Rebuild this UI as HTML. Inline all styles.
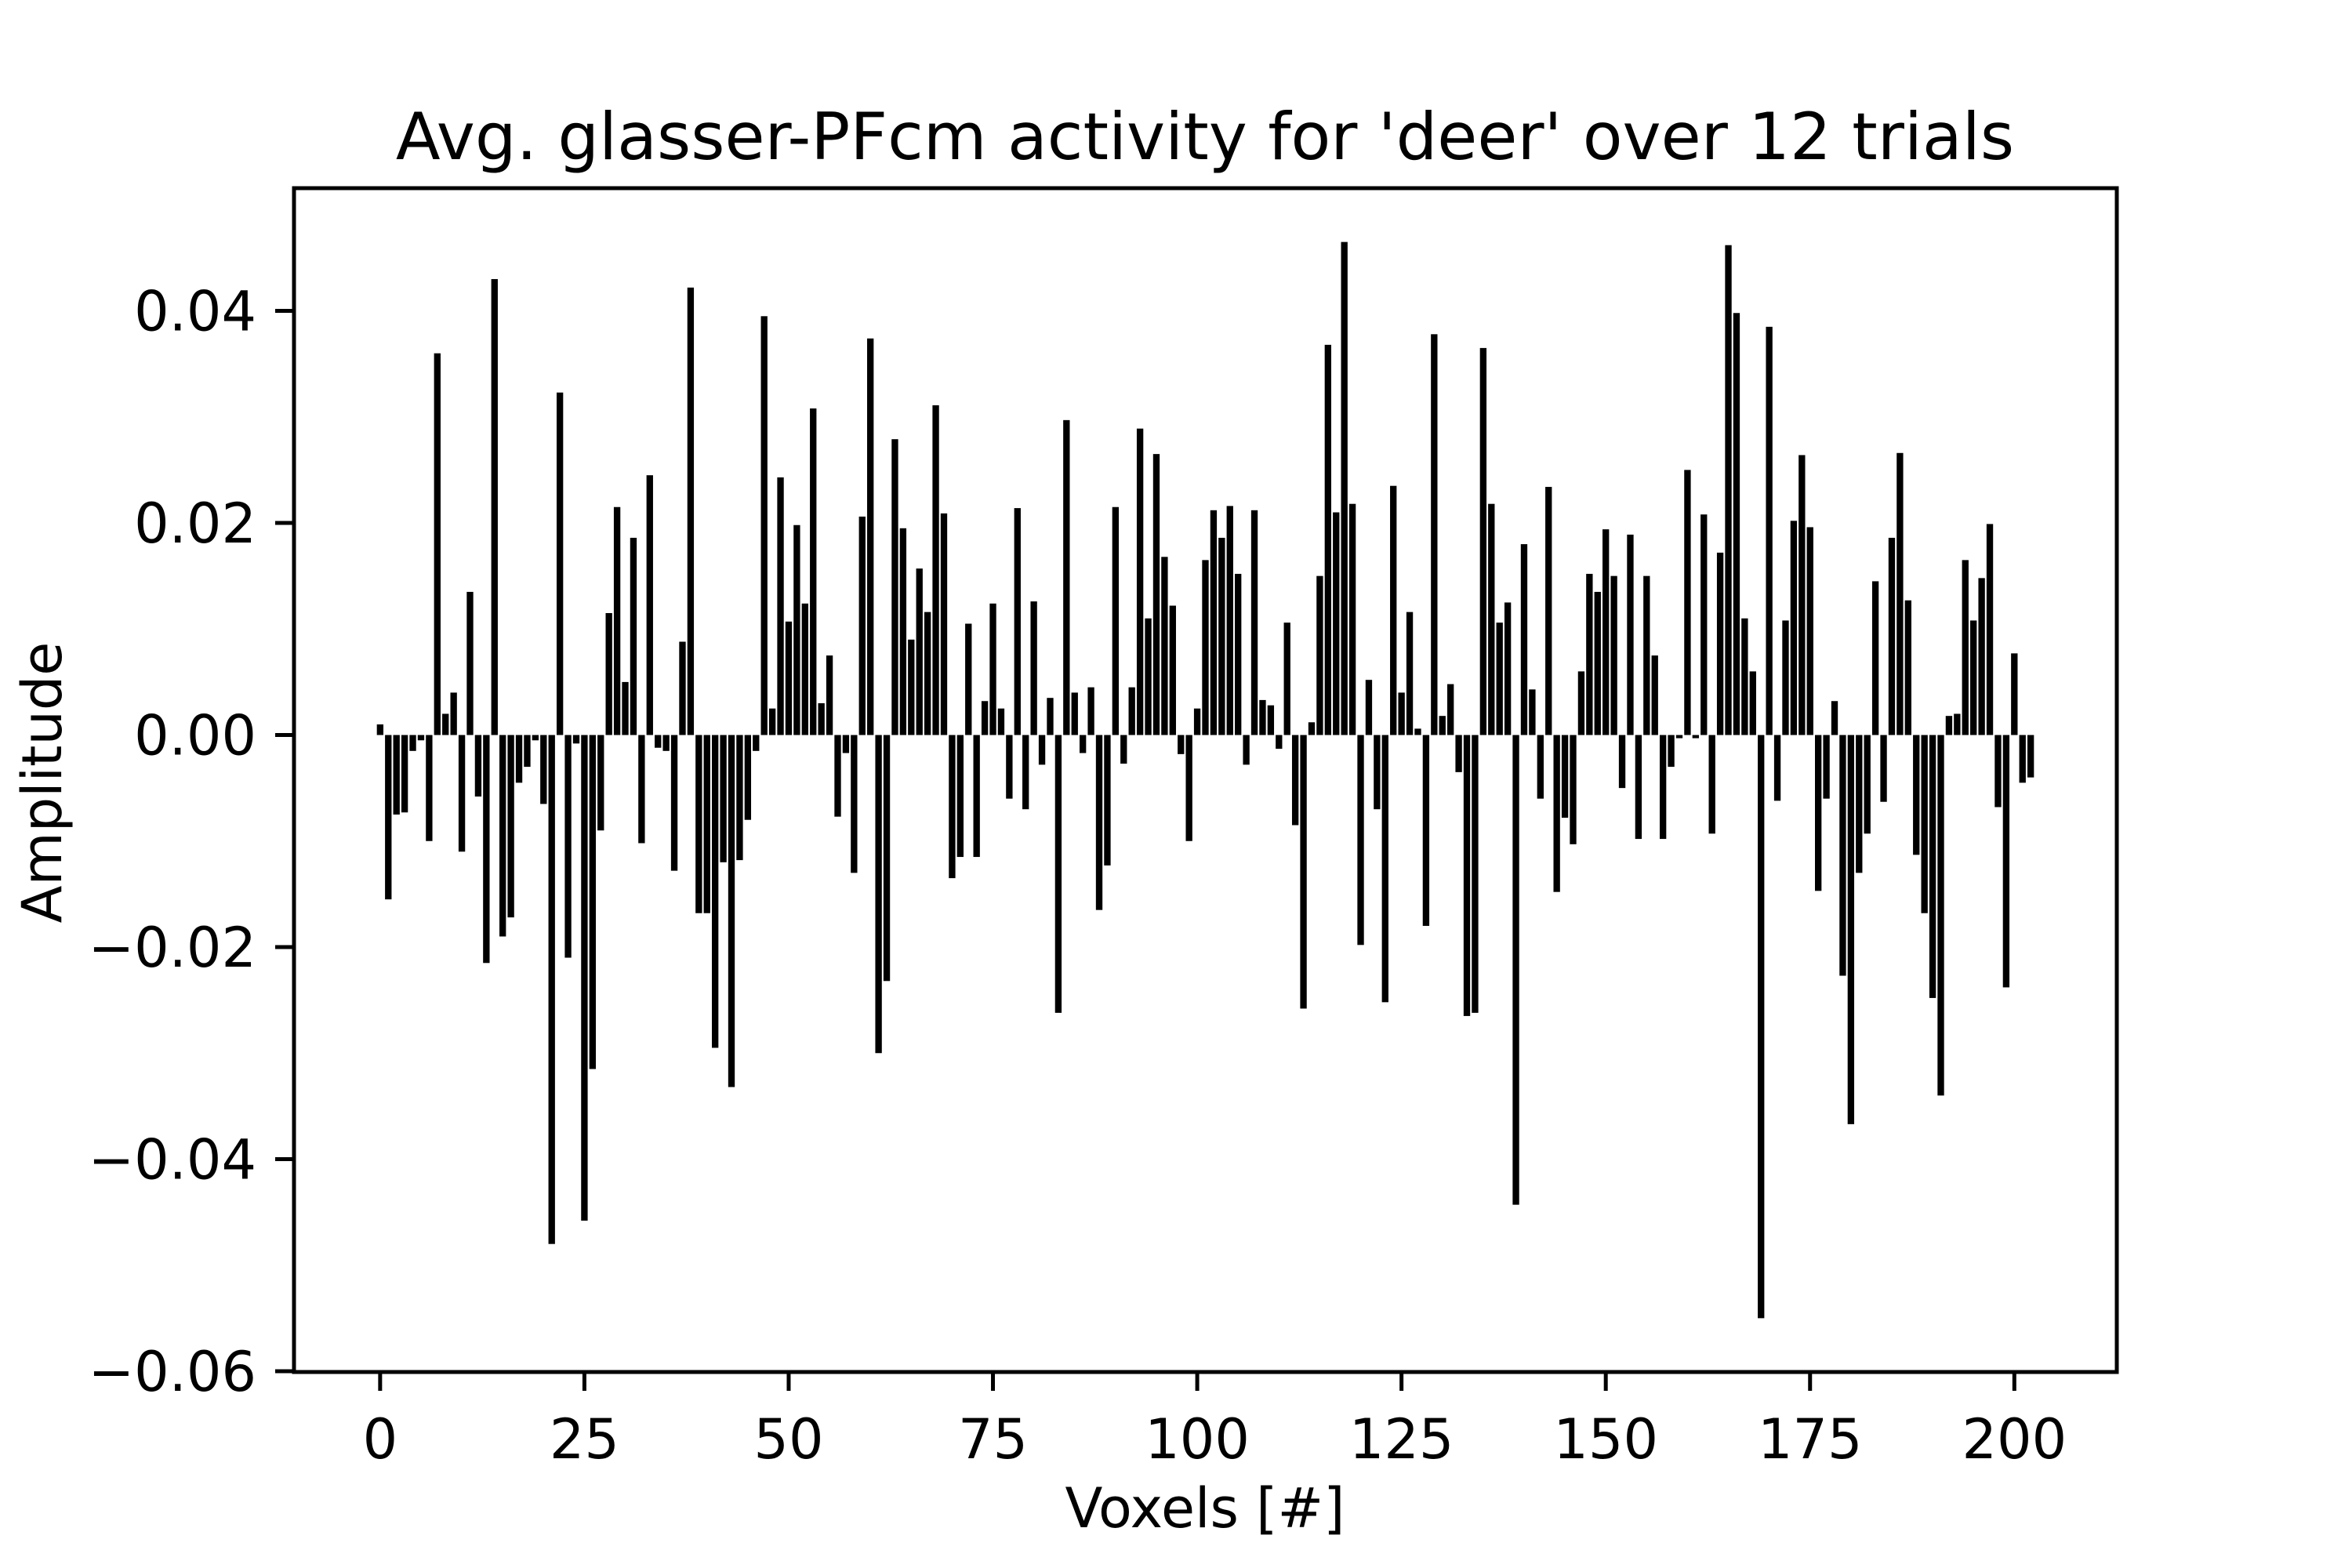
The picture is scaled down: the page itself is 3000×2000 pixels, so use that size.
<!DOCTYPE html>
<html><head><meta charset="utf-8"><style>
html,body{margin:0;padding:0;background:#fff;}
svg{display:block;font-family:"DejaVu Sans","Liberation Sans",sans-serif;}
</style></head><body>
<svg id="chart" width="3000" height="2000" viewBox="0 0 3000 2000">
<rect width="3000" height="2000" fill="#fff"/>
<g id="bars"></g>
<g id="axes"></g>
<text x="1537" y="203" text-anchor="middle" font-size="83" fill="#000">Avg. glasser-PFcm activity for 'deer' over 12 trials</text>
<text x="1537" y="1948" text-anchor="middle" font-size="70" fill="#000">Voxels [#]</text>
<text x="0" y="0" transform="translate(78,998) rotate(-90)" text-anchor="middle" font-size="70" fill="#000">Amplitude</text>
</svg>
<script>
const values = [0.001,-0.0155,-0.0075,-0.0073,-0.0015,-0.0005,-0.010,0.036,0.002,0.004,
-0.011,0.0135,-0.0058,-0.0215,0.043,-0.019,-0.0172,-0.0045,-0.003,-0.0005,
-0.0065,-0.048,0.0323,-0.021,-0.0008,-0.0458,-0.0315,-0.009,0.0115,0.0215,
0.005,0.0186,-0.0102,0.0245,-0.0012,-0.0015,-0.0128,0.0088,0.0422,-0.0168,
-0.0168,-0.0295,-0.012,-0.0332,-0.0118,-0.008,-0.0015,0.0395,0.0025,0.0243,
0.0107,0.0198,0.0124,0.0308,0.003,0.0075,-0.0077,-0.0017,-0.013,0.0206,
0.0374,-0.030,-0.0232,0.0279,0.0195,0.009,0.0157,0.0116,0.0311,0.0209,
-0.0135,-0.0115,0.0105,-0.0115,0.0032,0.0124,0.0025,-0.006,0.0214,-0.007,
0.0126,-0.0028,0.0035,-0.0262,0.0297,0.004,-0.0017,0.0045,-0.0165,-0.0123,
0.0215,-0.0027,0.0045,0.0289,0.011,0.0265,0.0168,0.0122,-0.0018,-0.010,
0.0025,0.0165,0.0212,0.0186,0.0216,0.0152,-0.0028,0.0212,0.0033,0.0028,
-0.0013,0.0106,-0.0085,-0.0258,0.0012,0.015,0.0368,0.021,0.0465,0.0218,
-0.0198,0.0052,-0.007,-0.0252,0.0235,0.004,0.0116,0.0006,-0.018,0.0378,
0.0018,0.0048,-0.0035,-0.0265,-0.0262,0.0365,0.0218,0.0106,0.0125,-0.0443,
0.018,0.0043,-0.006,0.0234,-0.0148,-0.0078,-0.0103,0.006,0.0152,0.0135,
0.0194,0.015,-0.005,0.0189,-0.0098,0.015,0.0075,-0.0098,-0.003,-0.0003,
0.025,-0.0003,0.0208,-0.0093,0.0172,0.0462,0.0398,0.011,0.006,-0.055,
0.0385,-0.0062,0.0108,0.0202,0.0264,0.0196,-0.0147,-0.006,0.0032,-0.0227,
-0.0367,-0.0130,-0.0093,0.0145,-0.0063,0.0186,0.0266,0.0127,-0.0113,-0.0168,
-0.0248,-0.034,0.0018,0.002,0.0165,0.0108,0.0148,0.0199,-0.0068,-0.0238,
0.0077,-0.0045,-0.004];
const xTicks = [0,25,50,75,100,125,150,175,200];
const yTicks = [-0.06,-0.04,-0.02,0.00,0.02,0.04];
const yTickLabels = ["\u22120.06","\u22120.04","\u22120.02","0.00","0.02","0.04"];

const NS = "http://www.w3.org/2000/svg";
const L = 375, R = 2700, T = 240, B = 1750;
const n = values.length;
const xmin0 = -0.4, xmax0 = n - 1 + 0.4, xm = (xmax0 - xmin0) * 0.05;
const xMin = xmin0 - xm, xMax = xmax0 + xm;
const vmin = Math.min(0, ...values), vmax = Math.max(0, ...values), ym = (vmax - vmin) * 0.05;
const yMin = vmin - ym, yMax = vmax + ym;
function xs(v){ return L + (v - xMin) / (xMax - xMin) * (R - L); }
function ys(v){ return B - (v - yMin) / (yMax - yMin) * (B - T); }

const gb = document.getElementById('bars');
values.forEach((v, i) => {
  const r = document.createElementNS(NS, 'rect');
  const x0 = xs(i - 0.4), x1 = xs(i + 0.4);
  const y0 = ys(Math.max(v, 0)), y1 = ys(Math.min(v, 0));
  r.setAttribute('x', x0); r.setAttribute('width', x1 - x0);
  r.setAttribute('y', y0); r.setAttribute('height', Math.max(y1 - y0, 0.5));
  r.setAttribute('fill', '#000');
  
  
  gb.appendChild(r);
});

const ga = document.getElementById('axes');
const frame = document.createElementNS(NS, 'rect');
frame.setAttribute('x', L); frame.setAttribute('y', T);
frame.setAttribute('width', R - L); frame.setAttribute('height', B - T);
frame.setAttribute('fill', 'none'); frame.setAttribute('stroke', '#000'); frame.setAttribute('stroke-width', 5);


ga.appendChild(frame);

xTicks.forEach(t => {
  const x = xs(t);
  const l = document.createElementNS(NS, 'line');
  l.setAttribute('x1', x); l.setAttribute('x2', x); l.setAttribute('y1', B); l.setAttribute('y2', B + 24);
  l.setAttribute('stroke', '#000'); l.setAttribute('stroke-width', 5);
  
  
  ga.appendChild(l);
  const tx = document.createElementNS(NS, 'text');
  tx.setAttribute('x', x); tx.setAttribute('y', B + 110);
  tx.setAttribute('text-anchor', 'middle'); tx.setAttribute('font-size', 70);
  tx.textContent = String(t);
  
  
  ga.appendChild(tx);
});
yTicks.forEach((t, i) => {
  const y = ys(t);
  const l = document.createElementNS(NS, 'line');
  l.setAttribute('x1', L - 24); l.setAttribute('x2', L); l.setAttribute('y1', y); l.setAttribute('y2', y);
  l.setAttribute('stroke', '#000'); l.setAttribute('stroke-width', 5);
  
  
  ga.appendChild(l);
  const tx = document.createElementNS(NS, 'text');
  tx.setAttribute('x', L - 48); tx.setAttribute('y', y + 25);
  tx.setAttribute('text-anchor', 'end'); tx.setAttribute('font-size', 70);
  tx.textContent = yTickLabels[i];
  
  
  ga.appendChild(tx);
});
</script>
</body></html>
